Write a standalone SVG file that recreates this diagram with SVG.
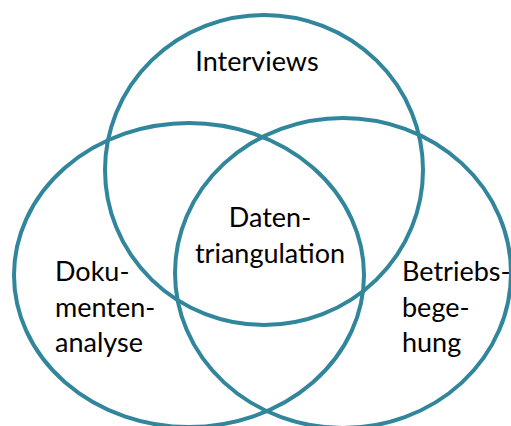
<svg xmlns="http://www.w3.org/2000/svg" width="511" height="426" viewBox="0 0 511 426">
  <style>
    .ring { fill: none; stroke: #31869C; stroke-width: 4; }
    .lbl { font-family: Lato, "Open Sans", "Liberation Sans", sans-serif; font-size: 27px; fill: #000; }
    .mid { text-anchor: middle; }
  </style>
  <rect width="511" height="426" fill="#fff"/>
  <g id="connectors"/>
  <g id="interviews">
    <ellipse class="ring" cx="264" cy="170" rx="159" ry="155"/>
    <text class="lbl mid" x="257" y="71">Interviews</text>
  </g>
  <g id="dokumentenanalyse">
    <ellipse class="ring" cx="189" cy="275" rx="175" ry="152"/>
    <text class="lbl" x="55" y="281">Doku-</text>
    <text class="lbl" x="55" y="317">menten-</text>
    <text class="lbl" x="55" y="352">analyse</text>
  </g>
  <g id="betriebsbegehung">
    <ellipse class="ring" cx="343" cy="273" rx="168" ry="155"/>
    <text class="lbl" x="402" y="281">Betriebs-</text>
    <text class="lbl" x="402" y="317">bege-</text>
    <text class="lbl" x="402" y="352">hung</text>
  </g>
  <g id="datentriangulation">
    <text class="lbl mid" x="270" y="227">Daten-</text>
    <text class="lbl mid" x="270" y="263">triangulation</text>
  </g>
</svg>
